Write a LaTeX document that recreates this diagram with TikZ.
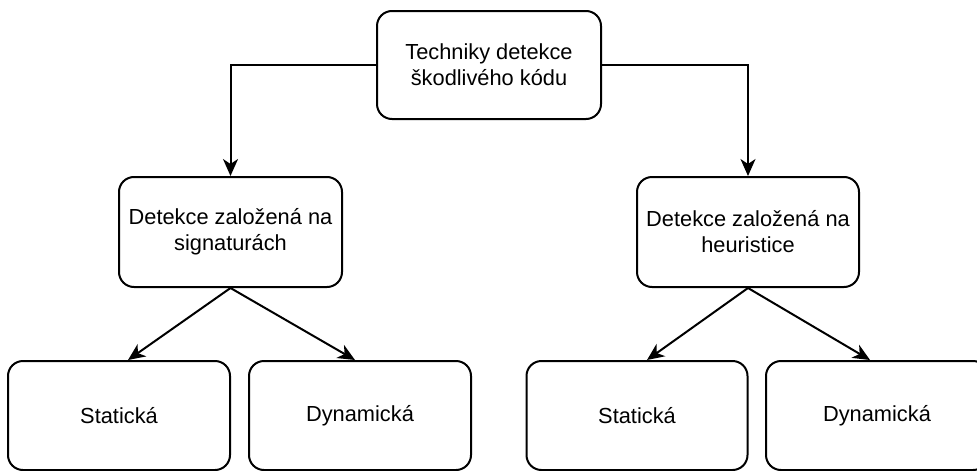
\documentclass[tikz,border=0pt]{standalone}
\usepackage{fontspec}
\setmainfont{Liberation Sans}
\usetikzlibrary{arrows.meta}
\begin{document}
\begin{tikzpicture}[x=1pt,y=-1pt,
  box/.style={draw=black, line width=2pt, rounded corners=15pt, fill=white,
    align=center, inner sep=0pt, font=\fontsize{21.8}{26}\selectfont},
  link/.style={draw=black, line width=2pt,
    -{Stealth[length=17pt,width=15pt,inset=5pt]}}]
  \path[use as bounding box] (0,0) rectangle (977,471);
  \clip (0,0) rectangle (977,471);

  % root
  \node[box, minimum width=224pt, minimum height=108pt] (root) at (489,65)
    {Techniky detekce\\ škodlivého kódu};

  % detection families
  \node[box, minimum width=223pt, minimum height=110pt] (sig) at (230.5,232)
    {Detekce založená na\\ signaturách};
  \node[box, minimum width=222pt, minimum height=110pt] (heu) at (748,232)
    {Detekce založená na\\ heuristice};

  % analysis kinds
  \node[box, minimum width=222pt, minimum height=109pt] (sigS) at (119,415.5) {Statická};
  \node[box, minimum width=222pt, minimum height=109pt] (sigD) at (360,415.5) {Dynamická};
  \node[box, minimum width=221pt, minimum height=109pt] (heuS) at (637,415.5) {Statická};
  \node[box, minimum width=222pt, minimum height=109pt] (heuD) at (877,415.5) {Dynamická};

  % connectors
  \draw[link] (root.west) -| (sig.north);
  \draw[link] (root.east) -| (heu.north);
  \draw[link] (sig.south) -- ([xshift=9pt]sigS.north);
  \draw[link] (sig.south) -- ([xshift=-5pt]sigD.north);
  \draw[link] (heu.south) -- ([xshift=10pt]heuS.north);
  \draw[link] (heu.south) -- ([xshift=-7pt]heuD.north);
\end{tikzpicture}
\end{document}
